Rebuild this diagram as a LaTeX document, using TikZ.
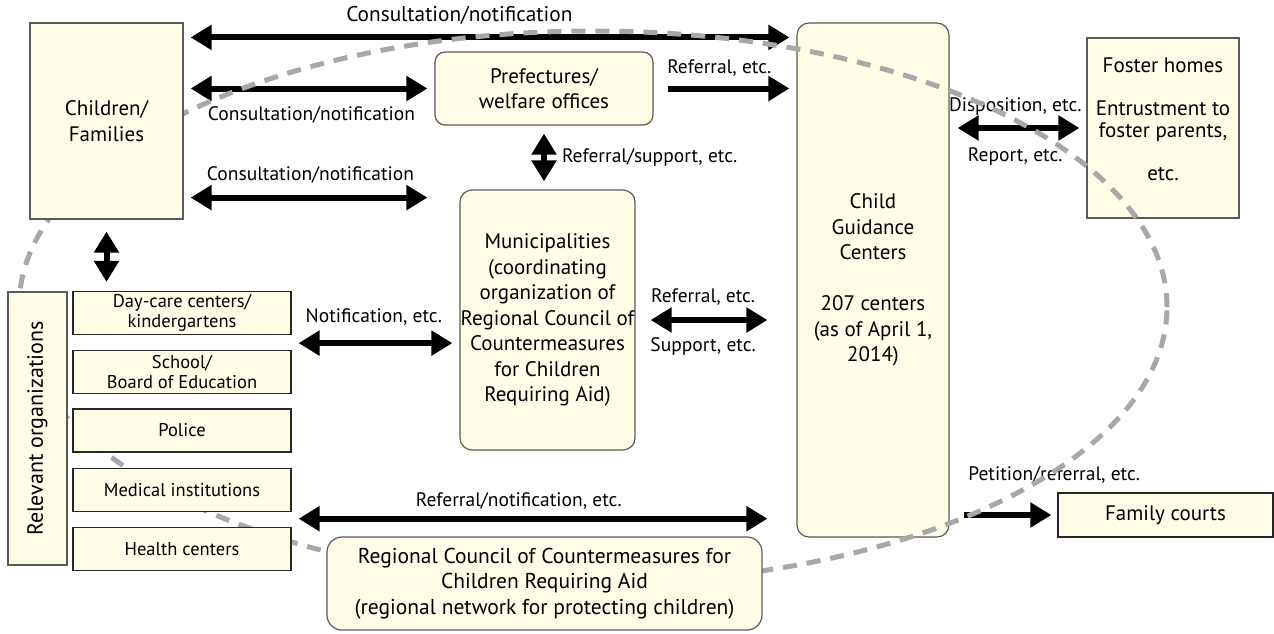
\documentclass[tikz,border=0pt]{standalone}
\usepackage{fontspec}
\setmainfont{PT Sans}
\usepackage{tikz}
\usetikzlibrary{arrows.meta,positioning}
\definecolor{cream}{HTML}{FFFDE6}
\definecolor{boxline}{HTML}{5A5A5A}
\definecolor{netgray}{HTML}{A8A8A8}
\pgfdeclarelayer{bg}
\pgfdeclarelayer{mid}
\pgfsetlayers{bg,mid,main}
\tikzstyle{party}=[rectangle, draw=boxline, fill=cream, line width=1.2pt, align=center, inner sep=0pt, font=\fontsize{21}{25.5}\selectfont]
\tikzstyle{agency}=[party, rounded corners=12pt]
\tikzstyle{org}=[party, draw=black!85, minimum width=218pt, minimum height=43pt, font=\fontsize{18.5}{20}\selectfont]
\tikzstyle{dbl}=[line width=6pt, shorten <=7pt, shorten >=7pt]
\tikzstyle{lbl}=[font=\fontsize{19.5}{20}\selectfont, inner sep=1pt, text height=12pt, text depth=3pt]
\tikzstyle{net}=[draw=netgray, line width=5pt, dash pattern=on 14pt off 10pt]

\begin{document}
\begin{tikzpicture}[x=1pt,y=-1pt,>={Triangle[length=21pt,width=24pt]}]
	\useasboundingbox (0,0) rectangle (1274,633);

	\begin{pgfonlayer}{bg}
		\fill[white] (0,0) rectangle (1274,633);
		\node[agency, minimum width=152pt, minimum height=514pt](cgc) at (873,280) {Child\\Guidance\\Centers\\[25.5pt]207 centers\\(as of April 1,\\2014)};
		\node[party, minimum width=152pt, minimum height=180pt, font=\fontsize{21}{21.5}\selectfont](foster) at (1163,128) {Foster homes\\[21.5pt]Entrustment to\\foster parents,\\[21.5pt]etc.\\[-4pt]~};
	\end{pgfonlayer}

	\node[party, minimum width=153pt, minimum height=196pt](kids) at (106.5,121) {Children/\\Families};
	\node[agency, rounded corners=10pt, minimum width=218pt, minimum height=73pt](pref) at (544,88.5) {Prefectures/\\welfare offices};
	\node[agency, minimum width=175pt, minimum height=260pt](muni) at (547.5,320) {Municipalities\\(coordinating\\organization of\\Regional Council of\\Countermeasures\\for Children\\Requiring Aid)};

	\node[org](daycare) at (182,313) {Day-care centers/\\kindergartens};
	\node[org](school)[below=15pt of daycare] {School/\\Board of Education};
	\node[org](police)[below=14pt of school] {Police};
	\node[org](medical)[below=15pt of police] {Medical institutions};
	\node[org](health)[below=15pt of medical] {Health centers};
	\node[party, rotate=90, minimum width=273pt, minimum height=59pt, font=\fontsize{22}{25}\selectfont](relorg) at (37.5,428.5) {Relevant organizations};

	\node[agency, rounded corners=15pt, minimum width=435pt, minimum height=93pt, font=\fontsize{21.5}{25.5}\selectfont](council) at (544.5,583.5) {Regional Council of Countermeasures for\\Children Requiring Aid\\(regional network for protecting children)};
	\node[party, draw=black!85, minimum width=215pt, minimum height=44pt](court) at (1165.5,515) {Family courts};

	\begin{pgfonlayer}{bg}
		\draw[dbl,<->]([yshift=-15pt]kids.north east) -- node[lbl,pos=.45,yshift=20pt,font=\fontsize{21.3}{20}\selectfont]{Consultation/notification} ([yshift=-15pt]cgc.north west);
		\draw[dbl,<->](kids.east |- pref.west) -- node[lbl,pos=.51,yshift=-27pt]{Consultation/notification} (pref.west);
		\draw[dbl,<->,shorten >=32pt]([yshift=22pt]kids.south east) -- node[lbl,pos=.46,yshift=22pt]{Consultation/notification} ([yshift=22pt]kids.south east -| muni.west);
		\draw[dbl,->,shorten <=14pt](pref.east) -- node[lbl,pos=.46,yshift=20pt]{Referral, etc.} (pref.east -| cgc.west);
		\draw[dbl,<->,shorten <=8pt,shorten >=8pt](pref.south) -- node[lbl,right=14pt]{Referral/support, etc.} (pref.south |- muni.north);
		\draw[dbl,<->,shorten <=12pt,shorten >=9pt](kids.south) -- (kids.south |- daycare.north);
		\draw[dbl,<->]([yshift=-8pt]daycare.south east) -- node[lbl,pos=.49,yshift=25pt]{Notification, etc.} ([yshift=-8pt]daycare.south east -| muni.west);
		\draw[dbl,<->,shorten <=15pt,shorten >=29pt](muni.east) -- node[lbl,pos=.42,yshift=22pt]{Referral, etc.} node[lbl,pos=.42,yshift=-27pt]{Support, etc.} (muni.east -| cgc.west);
		\draw[dbl,<->,shorten >=29pt]([yshift=-7pt]medical.south east) -- node[lbl,pos=.45,yshift=17pt]{Referral/notification, etc.} ([yshift=-7pt]medical.south east -| cgc.west);
		\draw[dbl,<->,shorten <=8pt](foster.west -| cgc.east) -- node[lbl,pos=.48,yshift=21pt]{Disposition, etc.} node[lbl,pos=.48,yshift=-29pt]{Report, etc.} (foster.west);
		\draw[dbl,->,shorten <=14pt,shorten >=6pt](court.west -| cgc.east) -- node[lbl,pos=.97,yshift=39pt]{Petition/referral, etc.} (court.west);
	\end{pgfonlayer}

	\begin{pgfonlayer}{mid}
		\draw[net] (593,307) ellipse [x radius=574pt, y radius=276pt];
	\end{pgfonlayer}
\end{tikzpicture}
\end{document}
